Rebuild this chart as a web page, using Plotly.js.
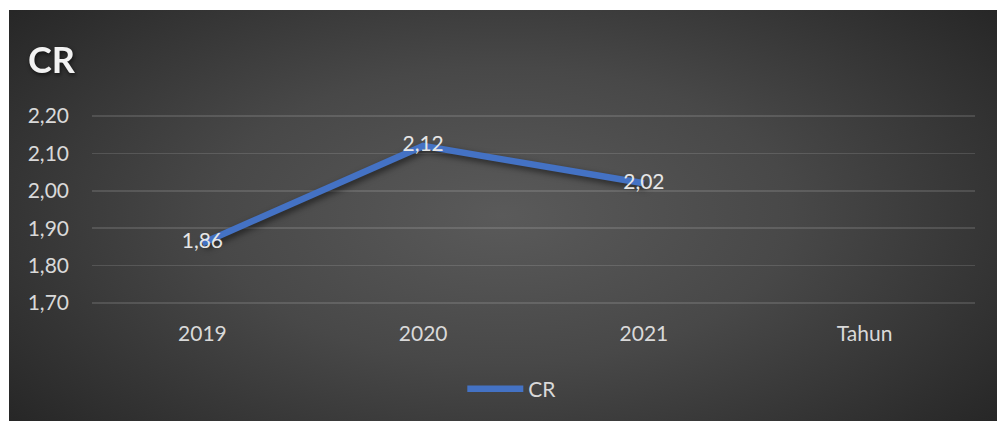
<!DOCTYPE html>
<html>
<head>
<meta charset="utf-8">
<script src="https://cdn.plot.ly/plotly-3.0.1.min.js"></script>
<style>
  html, body { margin: 0; padding: 0; background: #ffffff; }
  #chart {
    position: absolute; left: 9px; top: 10px; width: 988px; height: 411px;
    background: radial-gradient(ellipse 65% 80% at 50% 50%, #5a5a5a 0%, #484848 45%, #262626 100%);
  }
  #chart .scatterlayer .js-line { filter: drop-shadow(2px 3px 3px rgba(0,0,0,0.55)); }
  #chart .gtitle { filter: drop-shadow(1px 2px 2px rgba(0,0,0,0.6)); }
</style>
</head>
<body>
<div id="chart"></div>
<script>
const categories = ['2019', '2020', '2021', 'Tahun'];
const crValues = [1.86, 2.12, 2.02, null];
const crLabels = ['1,86', '2,12', '2,02', ''];
const yTickVals = [1.70, 1.80, 1.90, 2.00, 2.10, 2.20];
const yTickText = ['1,70', '1,80', '1,90', '2,00', '2,10', '2,20'];

const FONT = 'Lato, "Open Sans", sans-serif';

const trace = {
  type: 'scatter',
  mode: 'lines+text',
  name: 'CR',
  x: categories,
  y: crValues,
  text: crLabels,
  textposition: 'middle center',
  textfont: { family: FONT, size: 21, color: '#e6e6e6' },
  line: { color: '#4472C4', width: 6.5 },
  cliponaxis: false,
  hoverinfo: 'skip'
};

const layout = {
  width: 988,
  height: 411,
  paper_bgcolor: 'rgba(0,0,0,0)',
  plot_bgcolor: 'rgba(0,0,0,0)',
  margin: { l: 83, r: 22, t: 102, b: 114 },
  title: {
    text: '<b>CR</b>',
    font: { family: FONT, size: 36, color: '#f2f2f2' },
    x: 19 / 988, xanchor: 'left', xref: 'container',
    y: 1 - 50 / 411, yanchor: 'middle', yref: 'container'
  },
  xaxis: {
    type: 'category',
    categoryorder: 'array',
    categoryarray: categories,
    range: [-0.5, 3.5],
    showgrid: false,
    zeroline: false,
    showline: false,
    ticks: '',
    ticklabelstandoff: 12,
    tickfont: { family: FONT, size: 21, color: '#d9d9d9' },
    fixedrange: true
  },
  yaxis: {
    range: [1.6893, 2.2107],
    tickvals: yTickVals,
    ticktext: yTickText,
    showgrid: true,
    gridcolor: 'rgba(255,255,255,0.13)',
    gridwidth: 1.5,
    zeroline: false,
    showline: false,
    ticks: '',
    ticklabelstandoff: 22,
    tickfont: { family: FONT, size: 21, color: '#d9d9d9' },
    fixedrange: true
  },
  showlegend: true,
  legend: {
    orientation: 'h',
    x: 0.476, xanchor: 'center',
    y: (411 - 379) / 411, yref: 'container', yanchor: 'middle',
    font: { family: FONT, size: 21, color: '#d9d9d9' },
    itemwidth: 56,
    bgcolor: 'rgba(0,0,0,0)'
  }
};

Plotly.newPlot('chart', [trace], layout, { displayModeBar: false, staticPlot: true });
</script>
</body>
</html>
